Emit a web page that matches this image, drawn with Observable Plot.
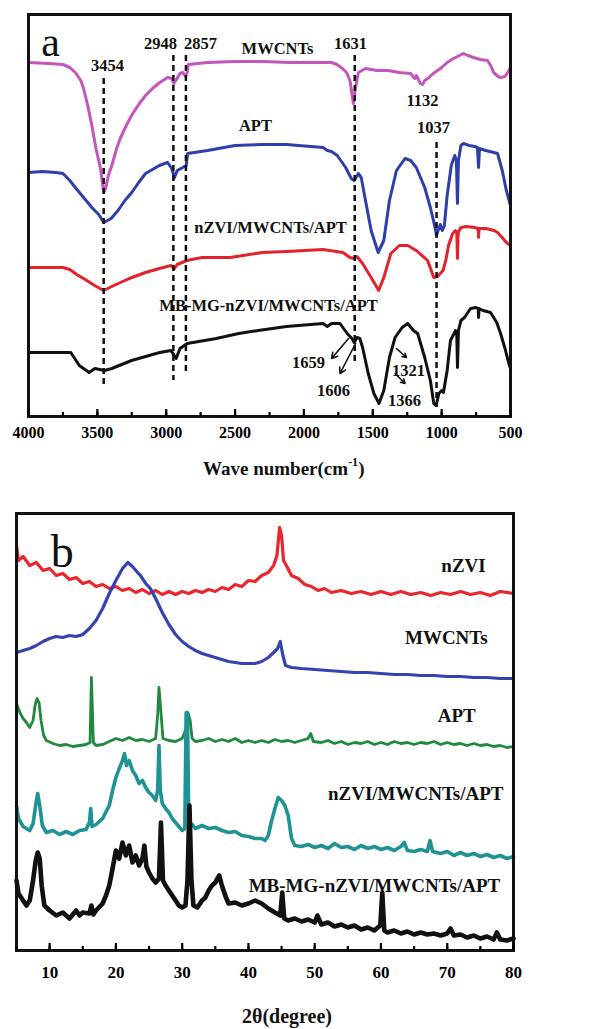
<!DOCTYPE html>
<html>
<head>
<meta charset="utf-8">
<script src="https://cdn.jsdelivr.net/npm/d3@7"></script>
<script src="https://cdn.jsdelivr.net/npm/@observablehq/plot@0.6"></script>
<style>
  html, body { margin: 0; padding: 0; background: #fff; }
  #wrap { position: relative; width: 615px; height: 1029px; overflow: hidden; font-family: 'Liberation Serif', 'Times New Roman', serif; }
  .panel { position: absolute; left: 0; }
  .title { position: absolute; font-weight: bold; white-space: nowrap; color: #111; }
  .title sup { font-size: 12px; position: relative; top: -2px; }
</style>
</head>
<body>
<div id="wrap">
  <div id="pa" class="panel" style="top:0"></div>
  <div id="pb" class="panel" style="top:490px"></div>
  <div class="title" style="left:203px; top:457px; font-size:19px;">Wave number(cm<sup>-1</sup>)</div>
  <div class="title" style="left:242px; top:1005px; font-size:20px;">2θ(degree)</div>
</div>
<script>
// ---------- Panel a: FTIR (wavenumber cm-1, transmittance a.u., offset) ----------
const ftirSeries = ["MWCNTs", "APT", "nZVI/MWCNTs/APT", "MB-MG-nZVI/MWCNTs/APT"];
const ftirColors = ["#c455bd", "#2e3fab", "#e3222b", "#111111"];
const ftirTicks = [4000, 3500, 3000, 2500, 2000, 1500, 1000, 500];
const ftirPeaks = [3454, 2948, 2857, 1631, 1037];

const ftirMWCNTs = [[4000,358],[3850,357],[3750,356],[3700,353],[3660,348],[3620,340],[3600,332],[3570,315],[3540,295],[3510,272],[3477,252],[3454,228],[3440,232],[3420,245],[3395,255],[3360,272],[3334,282],[3290,295],[3252,305],[3200,316],[3150,325],[3100,332],[3047,338],[2990,343],[2960,342],[2945,337],[2930,340],[2900,347],[2880,348],[2860,344],[2848,348],[2840,356],[2700,358],[2500,359],[2300,359],[2100,358],[1900,358],[1800,358],[1760,356],[1720,352],[1690,348],[1666,340],[1641,317],[1625,333],[1605,348],[1553,352],[1471,350],[1389,350],[1307,348],[1225,347],[1195,342],[1184,345],[1154,337],[1139,336],[1123,340],[1100,342],[1061,347],[1000,353],[960,358],[914,362],[870,365],[841,367],[810,365],[768,363],[720,361],[667,360],[640,354],[623,348],[590,344],[572,343],[540,344],[520,348],[500,353]];
const ftirAPT = [[4000,248],[3900,249],[3800,248],[3750,247],[3700,240],[3660,233],[3600,223],[3540,213],[3490,206],[3454,198],[3400,202],[3350,210],[3300,220],[3250,228],[3200,238],[3150,247],[3050,255],[2990,258],[2960,252],[2940,243],[2920,250],[2880,253],[2855,255],[2845,267],[2700,270],[2500,275],[2300,276],[2127,276],[1861,273],[1830,270],[1800,269],[1758,265],[1697,253],[1656,242],[1635,240],[1605,247],[1584,243],[1553,220],[1512,190],[1461,168],[1420,180],[1379,220],[1328,250],[1266,262],[1225,260],[1184,253],[1123,233],[1082,213],[1051,195],[1037,185],[1031,188],[1010,196],[995,190],[980,195],[960,225],[930,255],[905,265],[893,260],[885,217],[878,260],[860,275],[841,277],[800,275],[760,274],[740,273],[732,253],[725,272],[680,270],[620,268],[594,267],[560,250],[530,230],[500,215]];
const ftirNZVI = [[4000,153],[3750,153],[3700,151],[3650,146],[3600,142],[3520,135],[3454,130],[3380,135],[3300,140],[3250,143],[3150,148],[3050,152],[2965,155],[2940,152],[2920,156],[2850,160],[2740,163],[2537,163],[2300,168],[2127,169],[1861,171],[1717,168],[1666,163],[1635,162],[1615,164],[1574,157],[1512,143],[1457,130],[1420,143],[1369,167],[1307,175],[1246,175],[1184,170],[1102,160],[1057,143],[1030,144],[1010,147],[990,150],[970,160],[950,175],[920,187],[900,190],[890,188],[885,162],[880,188],[860,193],[820,194],[760,193],[735,192],[732,183],[728,192],[680,192],[620,190],[594,188],[560,183],[530,178],[500,175]];
const ftirMBMG = [[4000,68],[3693,68],[3631,55],[3560,48],[3518,52],[3447,50],[3395,52],[3252,60],[3047,68],[2965,70],[2928,62],[2900,72],[2848,77],[2637,82],[2473,87],[2332,90],[2127,94],[1861,97],[1830,94],[1800,97],[1738,97],[1686,87],[1651,82],[1635,78],[1615,83],[1594,82],[1574,73],[1533,47],[1492,27],[1455,17],[1420,30],[1379,63],[1338,83],[1287,93],[1246,97],[1205,90],[1174,87],[1123,63],[1082,40],[1057,17],[1040,15],[1020,27],[1000,30],[987,28],[960,50],[936,80],[899,90],[890,85],[885,53],[878,90],[860,100],[834,103],[790,112],[750,113],[735,112],[732,103],[728,112],[700,110],[645,108],[600,98],[572,87],[540,72],[514,58],[500,52]];

// ---------- Panel b: XRD (2theta degree, intensity a.u., offset) ----------
const xrdSeries = ["nZVI", "MWCNTs", "APT", "nZVI/MWCNTs/APT", "MB-MG-nZVI/MWCNTs/APT"];
const xrdColors = ["#e8262c", "#3443b0", "#1f8a3c", "#1f9393", "#111111"];
const xrdTicks = [10, 20, 30, 40, 50, 60, 70, 80];

const xrdNZVI = [[5,415],[5.3,400],[6,404],[7,395],[8,398],[9,390],[10,392],[11,385],[12,387],[13,381],[14,383],[15,377],[16,379],[17,374],[18,376],[19,372],[20,374],[21,370],[22,372],[23,368],[24,371],[25,367],[26,370],[27,366],[28,369],[29,366],[30,369],[31,367],[32,370],[33,368],[34,371],[35,369],[36,373],[37,371],[38,376],[39,374],[40,380],[41,379],[42,385],[43,388],[43.8,395],[44.3,405],[44.7,433],[45,425],[45.3,400],[45.8,394],[46.5,385],[47.5,382],[48.5,376],[49.5,374],[50.5,370],[51.5,372],[52.5,368],[54,370],[55.5,367],[57,369],[58.5,366],[60,369],[61.5,366],[63,369],[64.5,366],[66,368],[67.5,365],[69,368],[70.5,366],[72,369],[73.5,366],[75,368],[76.5,365],[78,369],[80,367]];
const xrdMWCNTs = [[5,308],[6,310],[7,312],[8,315],[9,319],[10,322],[11,324],[12,323],[13,325],[14,324],[15,326],[16,332],[17,340],[18,352],[19,367],[20,380],[21,392],[21.8,398],[22.5,394],[23,390],[23.7,385],[24.5,377],[25.2,372],[26,362],[27,348],[28,336],[29,326],[30,319],[31,314],[32,310],[33,307],[34,305],[35,303],[36,301],[37,299],[38,298],[39,297],[40,297],[41,297],[42,299],[43,303],[43.8,308],[44.4,312],[44.8,319],[45.2,305],[45.6,295],[46.5,293],[48,292],[50,291],[52,290],[54,289],[56,288],[58,288],[60,287],[62,286],[64,286],[66,285],[68,285],[70,284],[72,284],[74,283],[76,283],[78,282],[80,282]];
const xrdAPT = [[5,257],[5.5,248],[6,242],[6.5,238],[7,233],[7.5,240],[7.8,255],[8.1,262],[8.4,258],[8.7,240],[9.1,225],[9.5,220],[10.5,217],[11.5,215],[12.5,216],[13.5,214],[14.5,215],[15.5,216],[16.1,218],[16.3,283],[16.6,218],[17,215],[18,216],[19,219],[20,222],[21,220],[22,223],[23,220],[24,221],[25,219],[26,222],[26.3,245],[26.5,273],[26.8,248],[27.1,222],[28,220],[29,219],[30,222],[30.6,232],[30.9,247],[31.2,240],[31.5,222],[32,219],[33,220],[34,222],[35,219],[36,221],[37,219],[38,222],[39,218],[40,220],[41,218],[42,220],[43,218],[44,221],[45,219],[46,220],[47,218],[48,220],[49,222],[49.4,227],[49.8,219],[51,218],[52,220],[53,217],[54,219],[55,216],[56,218],[57,217],[58,219],[59,216],[60,218],[61,216],[62,219],[63,217],[64,218],[65,216],[66,218],[67,217],[68,219],[69,216],[70,218],[71,216],[72,217],[73,215],[74,217],[75,215],[76,216],[77,214],[78,215],[79,213],[80,214]];
const xrdComposite = [[5,155],[5.3,142],[6,134],[7,130],[7.5,137],[8,160],[8.2,167],[8.5,155],[8.9,135],[9.5,128],[10.5,130],[11.5,126],[12.5,129],[13.5,126],[14.5,130],[15.5,131],[16,138],[16.2,152],[16.4,134],[17,136],[18,142],[19,155],[19.5,170],[20,183],[20.5,192],[21,200],[21.3,207],[21.6,195],[22,200],[22.5,190],[23,185],[23.5,177],[24,180],[24.5,173],[25,168],[25.5,165],[26,160],[26.3,170],[26.5,215],[26.7,170],[27,157],[27.5,152],[28,148],[28.5,142],[29,138],[29.5,134],[30,130],[30.4,132],[30.6,248],[30.8,248],[31,133],[31.5,136],[32,132],[33,135],[34,132],[35,133],[36,130],[37,128],[38,129],[39,125],[40,124],[41,122],[42,122],[42.5,120],[43,125],[43.5,140],[44,152],[44.5,163],[45,160],[45.5,155],[46,145],[46.5,122],[47,115],[48,114],[49,116],[50,113],[51,115],[52,112],[53,117],[54,113],[55,114],[56,111],[57,115],[58,112],[59,114],[60,111],[61,113],[62,110],[63,114],[63.5,118],[64,110],[65,109],[66,111],[67,109],[67.4,120],[67.8,109],[69,107],[70,109],[71,105],[72,108],[73,105],[74,107],[75,104],[76,106],[77,103],[78,105],[79,102],[80,104]];
const xrdMBMG = [[5,80],[5.3,67],[6,60],[6.5,55],[7,60],[7.5,80],[7.9,100],[8.2,108],[8.5,102],[8.8,75],[9.2,55],[10,50],[11,45],[12,48],[13,42],[14,50],[14.5,45],[15,48],[16,47],[16.3,55],[16.6,46],[17,50],[18,57],[18.5,65],[19,75],[19.5,92],[20,110],[20.5,102],[21,118],[21.5,105],[22,115],[22.5,98],[23,105],[23.5,95],[24,102],[24.3,115],[24.6,94],[25,88],[25.5,82],[26,78],[26.5,82],[26.8,138],[27.1,80],[27.5,75],[28,70],[28.5,65],[29,60],[29.5,55],[30,53],[30.5,55],[30.8,80],[31.1,155],[31.4,80],[31.7,55],[32.3,53],[33,60],[33.5,63],[34,70],[34.5,75],[35,78],[35.6,85],[36,75],[36.5,65],[37,57],[38,58],[39,55],[40,57],[41,60],[42,57],[43,52],[44,48],[44.8,45],[45.1,68],[45.4,42],[46,40],[47,42],[48,39],[49,41],[50,38],[50.4,45],[51,36],[52,38],[53,34],[54,36],[55,33],[56,35],[57,31],[58,33],[59,30],[59.9,35],[60.2,68],[60.5,30],[61,28],[62,30],[63,27],[64,29],[65,26],[66,28],[67,26],[68,27],[69,25],[70,27],[70.5,32],[71,25],[72,26],[73,23],[74,25],[75,22],[76,24],[77,21],[77.5,28],[78,21],[79,20],[80,22]];

// ---------- build tables ----------
const toRows = (arr) => arr.map(([x, v]) => ({x, v}));
const ftirArrays = [ftirMWCNTs, ftirAPT, ftirNZVI, ftirMBMG];
const xrdArrays = [xrdNZVI, xrdMWCNTs, xrdAPT, xrdComposite, xrdMBMG];
const xrdWidths = [3.2, 3.2, 2.8, 3.6, 4.6]; // noise band thickness

const fontFamily = "'Liberation Serif', 'Times New Roman', serif";
const lbl = (text, x, y, opts = {}) => Plot.text([text], {x, y, text: d => d, fontWeight: "bold", fontSize: 16.5, fill: "#111", ...opts});

// dashed guide extents (a.u.) for each labelled FTIR peak
const guideExtent = {3454: [342, 33], 2948: [365, 40], 2857: [365, 45], 1631: [365, 57], 1037: [278, 13]};

const plotA = Plot.plot({
  width: 615, height: 490,
  marginLeft: 28, marginRight: 105, marginTop: 14, marginBottom: 74,
  x: {domain: [4000, 500], label: null},
  y: {domain: [4, 406], axis: null},
  style: {fontFamily, background: "transparent", overflow: "visible"},
  marks: [
    ...ftirArrays.map((a, i) => Plot.line(toRows(a), {x: "x", y: "v", stroke: ftirColors[i], strokeWidth: 3, strokeLinejoin: "round"})),
    Plot.ruleX(ftirPeaks, {x: d => d, y1: d => guideExtent[d][0], y2: d => guideExtent[d][1], stroke: "#111", strokeWidth: 2.5, strokeDasharray: "6,4"}),
    Plot.arrow([{a: 1676, b: 82, c: 1799, d: 62}, {a: 1625, b: 77, c: 1738, d: 47}, {a: 1328, b: 72, c: 1256, d: 63}, {a: 1338, b: 47, c: 1266, d: 37}],
      {x1: "a", y1: "b", x2: "c", y2: "d", stroke: "#111", strokeWidth: 1.6, headLength: 6}),
    Plot.frame({strokeWidth: 3, stroke: "#111"}),
    Plot.axisX(d3.range(500, 4001, 250), {tickSize: -4, tickFormat: () => "", strokeWidth: 2.2}),
    Plot.axisX(ftirTicks, {tickSize: -7, tickFormat: () => "", strokeWidth: 2.2}),
    Plot.axisX(ftirTicks, {tickSize: 0, tickPadding: 10, tickFormat: d => `${d}`, fontSize: 16, fontWeight: "bold"}),
    Plot.text(["a"], {x: 3840, y: 378, text: d => d, fontSize: 42, fill: "#111"}),
    lbl("3454", 3426, 355), lbl("2948", 3041, 377), lbl("2857", 2751, 377),
    lbl(ftirSeries[0], 2192, 372), lbl("1631", 1662, 377), lbl("1132", 1139, 320),
    lbl(ftirSeries[1], 2352, 295), lbl("1037", 1059, 293),
    lbl(ftirSeries[2], 2243, 193), lbl(ftirSeries[3], 2257, 115),
    lbl("1659", 1967, 58), lbl("1606", 1785, 30), lbl("1321", 1241, 50), lbl("1366", 1270, 20)
  ]
});
document.getElementById("pa").append(plotA);

const lblB = (text, x, y) => Plot.text([text], {x, y, text: d => d, fontWeight: "bold", fontSize: 19, fill: "#111", textAnchor: "end"});

const plotB = Plot.plot({
  width: 615, height: 539,
  marginLeft: 16, marginRight: 102, marginTop: 23, marginBottom: 79,
  x: {domain: [5, 80], label: null},
  y: {domain: [10, 447], axis: null},
  style: {fontFamily, background: "transparent", overflow: "visible"},
  marks: [
    ...xrdArrays.map((a, i) => Plot.line(toRows(a), {x: "x", y: "v", stroke: xrdColors[i], strokeWidth: xrdWidths[i], strokeLinejoin: "round"})),
    Plot.frame({strokeWidth: 3, stroke: "#111"}),
    Plot.axisX(d3.range(5, 81, 5), {tickSize: -4, tickFormat: () => "", strokeWidth: 2.2}),
    Plot.axisX(xrdTicks, {tickSize: -7, tickFormat: () => "", strokeWidth: 2.2}),
    Plot.axisX(xrdTicks, {tickSize: 0, tickPadding: 15, tickFormat: d => `${d}`, fontSize: 17, fontWeight: "bold"}),
    Plot.text(["b"], {x: 11.9, y: 408, text: d => d, fontSize: 46, fill: "#111"}),
    lblB(xrdSeries[0], 75.8, 395), lblB(xrdSeries[1], 76.1, 323), lblB(xrdSeries[2], 74.3, 245),
    lblB(xrdSeries[3], 78.5, 167), lblB(xrdSeries[4], 78.0, 75)
  ]
});
document.getElementById("pb").append(plotB);
</script>
</body>
</html>
